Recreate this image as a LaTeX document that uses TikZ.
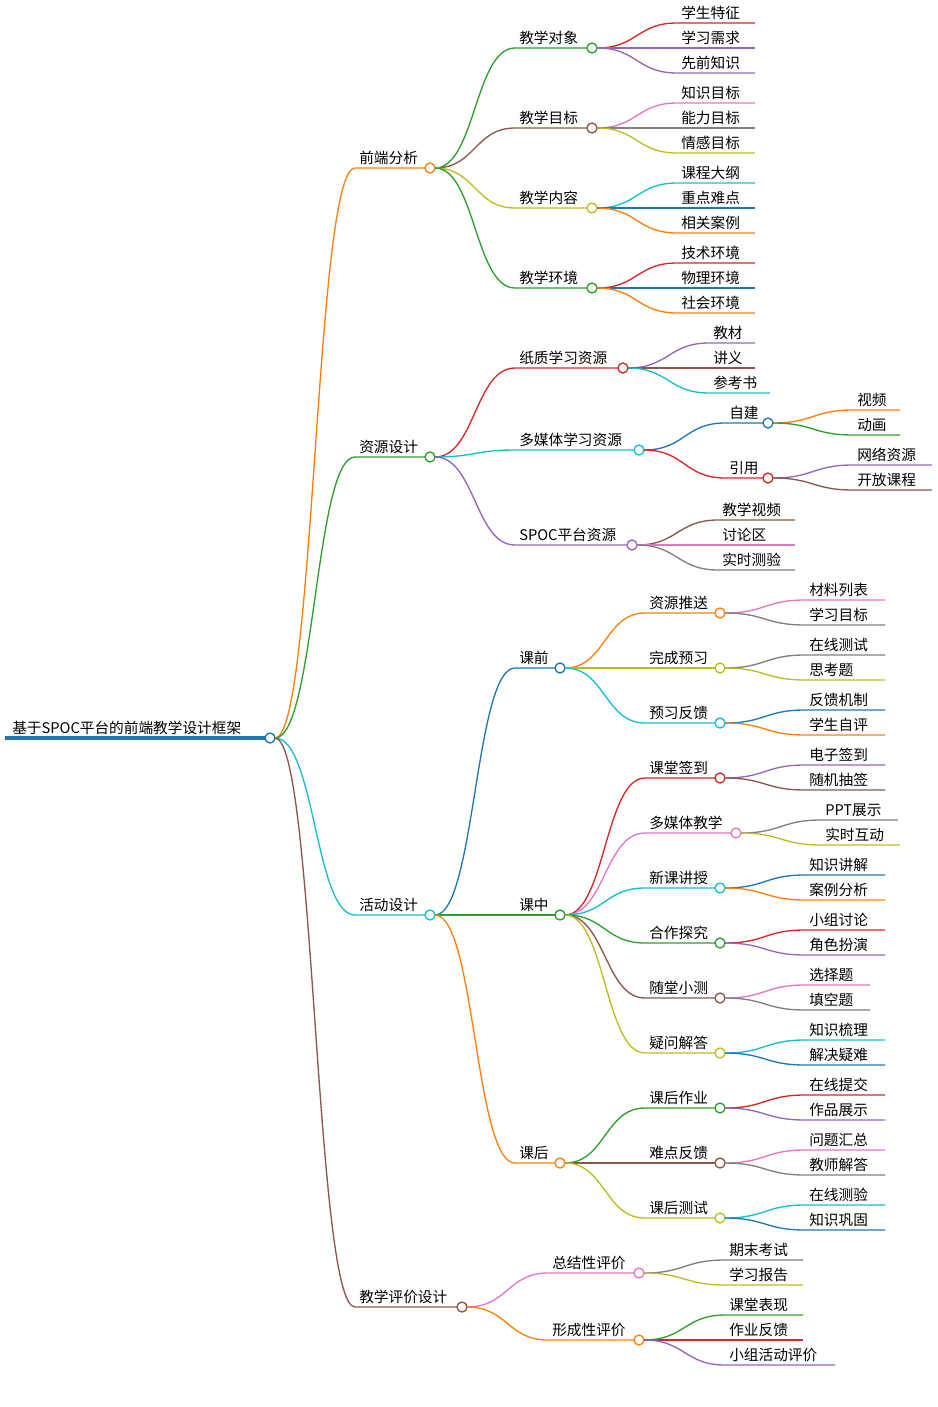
\documentclass[tikz,border=0pt]{standalone}
\usepackage{fontspec}
\setmainfont{Noto Sans CJK SC}
\usetikzlibrary{calc}
\definecolor{cblue}{HTML}{1F77B4}
\definecolor{corange}{HTML}{FF7F0E}
\definecolor{cgreen}{HTML}{2CA02C}
\definecolor{cred}{HTML}{D62728}
\definecolor{cpurple}{HTML}{9467BD}
\definecolor{cbrown}{HTML}{8C564B}
\definecolor{cpink}{HTML}{E377C2}
\definecolor{cgray}{HTML}{7F7F7F}
\definecolor{colive}{HTML}{BCBD22}
\definecolor{ccyan}{HTML}{17BECF}
\tikzset{
mmtext/.style={inner sep=0pt,anchor=south west,font=\fontsize{11}{13}\selectfont},
mmline/.style={line width=1pt},
}
% inner node: name, parent, x start, circle x, y, colour, text
\newcommand\mm[7]{
  \draw[mmline,#6] let \p1=(#2), \p2=(#3,#5) in
    (\p1) .. controls ({(\x1+\x2)/2},\y1) and ({(\x1+\x2)/2},\y2) .. (\p2) -- (#4-5,#5);
  \node[mmtext] (#1t) at (#3+4,#5-3) {#7};
  \draw[mmline,#6,fill=white] (#4,#5) circle (5);
  \coordinate (#1) at (#4+5,#5);
}
% leaf: parent, x start, x end, y, colour, text
\newcommand\lf[6]{
  \draw[mmline,#5] let \p1=(#1), \p2=(#2,#4) in
    (\p1) .. controls ({(\x1+\x2)/2},\y1) and ({(\x1+\x2)/2},\y2) .. (\p2) -- (#3,#4);
  \node[mmtext] at (#2+4,#4-3) {#6};
}
\begin{document}
\begin{tikzpicture}[x=0.75pt,y=-0.75pt]
\useasboundingbox (0,0) rectangle (938,1407);
% root
\draw[cblue,line width=2.5pt] (5,738) -- (265,738);
\node[mmtext] (roott) at (12,735) {基于SPOC平台的前端教学设计框架};
\draw[mmline,cblue,fill=white] (270,738) circle (5);
\coordinate (root) at (275,738);
% front-end analysis
\mm{qd}{root}{355}{430}{168}{corange}{前端分析}
\mm{dx}{qd}{515}{592}{48}{cgreen}{教学对象}
\lf{dx}{677}{755}{23}{cred}{学生特征}
\lf{dx}{677}{755}{48}{cpurple}{学习需求}
\lf{dx}{677}{755}{73}{cpurple}{先前知识}
\mm{mb}{qd}{515}{592}{128}{cbrown}{教学目标}
\lf{mb}{677}{755}{103}{cpink}{知识目标}
\lf{mb}{677}{755}{128}{cgray}{能力目标}
\lf{mb}{677}{755}{153}{colive}{情感目标}
\mm{nr}{qd}{515}{592}{208}{colive}{教学内容}
\lf{nr}{677}{755}{183}{ccyan}{课程大纲}
\lf{nr}{677}{755}{208}{cblue}{重点难点}
\lf{nr}{677}{755}{233}{corange}{相关案例}
\mm{hj}{qd}{515}{592}{288}{cgreen}{教学环境}
\lf{hj}{677}{755}{263}{cred}{技术环境}
\lf{hj}{677}{755}{288}{cblue}{物理环境}
\lf{hj}{677}{755}{313}{corange}{社会环境}
% resource design
\mm{zy}{root}{355}{430}{457}{cgreen}{资源设计}
\mm{zz}{zy}{515}{623}{368}{cred}{纸质学习资源}
\lf{zz}{709}{755}{343}{cpurple}{教材}
\lf{zz}{709}{755}{368}{cbrown}{讲义}
\lf{zz}{709}{770}{393}{ccyan}{参考书}
\mm{dm}{zy}{515}{639}{450}{ccyan}{多媒体学习资源}
\mm{zj}{dm}{725}{768}{423}{cblue}{自建}
\lf{zj}{853}{900}{410}{corange}{视频}
\lf{zj}{853}{900}{435}{cgreen}{动画}
\mm{yy}{dm}{725}{768}{478}{cred}{引用}
\lf{yy}{853}{932}{465}{cpurple}{网络资源}
\lf{yy}{853}{932}{490}{cbrown}{开放课程}
\mm{sp}{zy}{515}{632}{545}{cpurple}{SPOC平台资源}
\lf{sp}{718}{795}{520}{cbrown}{教学视频}
\lf{sp}{718}{795}{545}{cpink}{讨论区}
\lf{sp}{718}{795}{570}{cgray}{实时测验}
% activity design
\mm{hd}{root}{355}{430}{915}{ccyan}{活动设计}
\mm{kq}{hd}{515}{560}{668}{cblue}{课前}
\mm{ts}{kq}{645}{720}{613}{corange}{资源推送}
\lf{ts}{805}{885}{600}{cpink}{材料列表}
\lf{ts}{805}{885}{625}{cgray}{学习目标}
\mm{yx}{kq}{645}{720}{668}{colive}{完成预习}
\lf{yx}{805}{885}{655}{cgray}{在线测试}
\lf{yx}{805}{885}{680}{colive}{思考题}
\mm{fk}{kq}{645}{720}{723}{ccyan}{预习反馈}
\lf{fk}{805}{885}{710}{cblue}{反馈机制}
\lf{fk}{805}{885}{735}{corange}{学生自评}
\mm{kz}{hd}{515}{560}{915}{cgreen}{课中}
\mm{qdao}{kz}{645}{720}{778}{cred}{课堂签到}
\lf{qdao}{805}{885}{765}{cpurple}{电子签到}
\lf{qdao}{805}{885}{790}{cbrown}{随机抽签}
\mm{dmt}{kz}{645}{736}{833}{cpink}{多媒体教学}
\lf{dmt}{821}{898}{820}{cgray}{PPT展示}
\lf{dmt}{821}{900}{845}{colive}{实时互动}
\mm{js}{kz}{645}{720}{888}{ccyan}{新课讲授}
\lf{js}{805}{885}{875}{cblue}{知识讲解}
\lf{js}{805}{885}{900}{corange}{案例分析}
\mm{hz}{kz}{645}{720}{943}{cgreen}{合作探究}
\lf{hz}{805}{885}{930}{cred}{小组讨论}
\lf{hz}{805}{885}{955}{cpurple}{角色扮演}
\mm{xc}{kz}{645}{720}{998}{cbrown}{随堂小测}
\lf{xc}{805}{870}{985}{cpink}{选择题}
\lf{xc}{805}{870}{1010}{cgray}{填空题}
\mm{jd}{kz}{645}{720}{1053}{colive}{疑问解答}
\lf{jd}{805}{885}{1040}{ccyan}{知识梳理}
\lf{jd}{805}{885}{1065}{cblue}{解决疑难}
\mm{kh}{hd}{515}{560}{1163}{corange}{课后}
\mm{zyy}{kh}{645}{720}{1108}{cgreen}{课后作业}
\lf{zyy}{805}{885}{1095}{cred}{在线提交}
\lf{zyy}{805}{885}{1120}{cpurple}{作品展示}
\mm{nd}{kh}{645}{720}{1163}{cbrown}{难点反馈}
\lf{nd}{805}{885}{1150}{cpink}{问题汇总}
\lf{nd}{805}{885}{1175}{cgray}{教师解答}
\mm{cs}{kh}{645}{720}{1218}{colive}{课后测试}
\lf{cs}{805}{885}{1205}{ccyan}{在线测验}
\lf{cs}{805}{885}{1230}{cblue}{知识巩固}
% evaluation design
\mm{pj}{root}{355}{462}{1307}{cbrown}{教学评价设计}
\mm{zjx}{pj}{548}{639}{1273}{cpink}{总结性评价}
\lf{zjx}{725}{803}{1260}{cgray}{期末考试}
\lf{zjx}{725}{803}{1285}{colive}{学习报告}
\mm{xcx}{pj}{548}{639}{1340}{corange}{形成性评价}
\lf{xcx}{725}{803}{1315}{cgreen}{课堂表现}
\lf{xcx}{725}{803}{1340}{cred}{作业反馈}
\lf{xcx}{725}{835}{1365}{cpurple}{小组活动评价}
\end{tikzpicture}
\end{document}
